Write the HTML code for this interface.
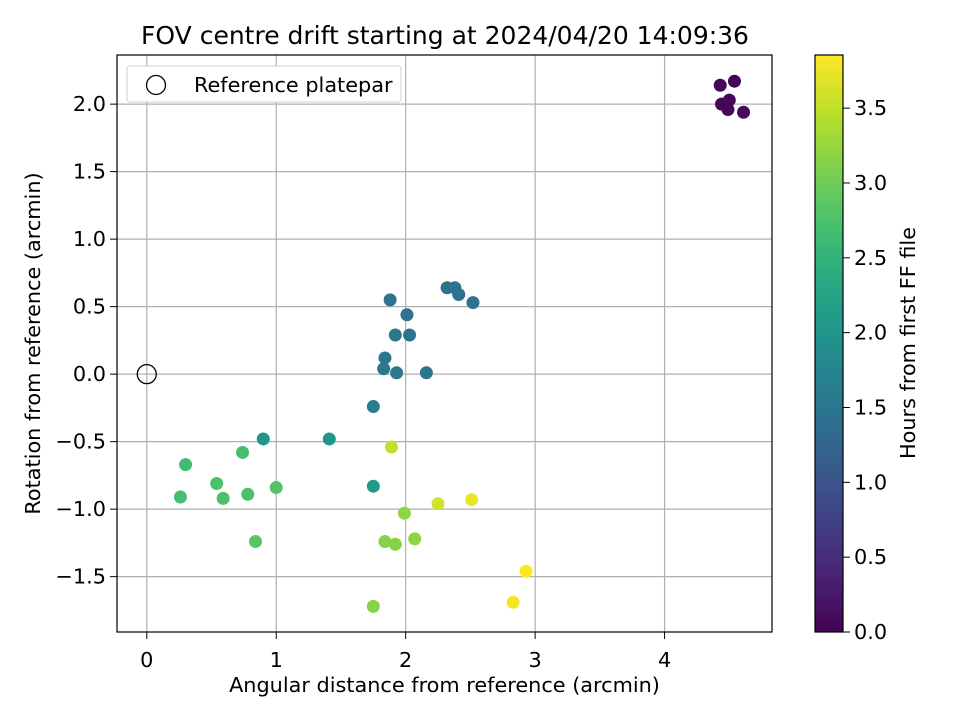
<!DOCTYPE html>
<html><head><meta charset="utf-8"><style>
body{margin:0;background:#fff;}
svg text{font-family:"DejaVu Sans","Liberation Sans",sans-serif;fill:#000;}
</style></head><body>
<svg id="chart" width="960" height="720" xmlns="http://www.w3.org/2000/svg">
<rect width="960" height="720" fill="#fff"/>
<text x="445" y="44" font-size="25" text-anchor="middle">FOV centre drift starting at 2024/04/20 14:09:36</text>
<g id="grid"></g><g id="pts"></g><g id="axes"></g>
<defs><linearGradient id="vir" x1="0" y1="1" x2="0" y2="0"></linearGradient></defs>
</svg>
<script>
const xVals=[4.43,4.54,4.44,4.50,4.49,4.61, 1.88,2.32,2.38,2.41,2.52,2.01,1.92,2.03,1.84,1.83,1.93,2.16,1.75, 0.90,1.41,1.75, 0.30,0.74,0.26,0.54,0.59,0.78,1.00,0.84, 1.89,1.99,1.84,1.92,2.07,1.75, 2.25,2.51,2.93,2.83];
const yVals=[2.14,2.17,2.00,2.03,1.96,1.94, 0.55,0.64,0.64,0.59,0.53,0.44,0.29,0.29,0.12,0.04,0.01,0.01,-0.24, -0.48,-0.48,-0.83, -0.67,-0.58,-0.91,-0.81,-0.92,-0.89,-0.84,-1.24, -0.54,-1.03,-1.24,-1.26,-1.22,-1.72, -0.96,-0.93,-1.46,-1.69];
const hours=[0.05,0.02,0.06,0.08,0.07,0.1, 1.45,1.45,1.45,1.45,1.45,1.5,1.5,1.5,1.55,1.55,1.55,1.5,1.65, 2.0,2.0,2.1, 2.65,2.7,2.7,2.75,2.75,2.75,2.8,2.85, 3.5,3.2,3.15,3.15,3.2,3.15, 3.6,3.75,3.85,3.8];
const xTicks=[0,1,2,3,4];
const yTicks=[-1.5,-1.0,-0.5,0.0,0.5,1.0,1.5,2.0];
const cTicks=[0.0,0.5,1.0,1.5,2.0,2.5,3.0,3.5];
const L=117,R=772,T=55,B=632,xmin=-0.23,xmax=4.83,ymin=-1.91,ymax=2.364,cmax=3.855;
const sx=v=>L+(v-xmin)/(xmax-xmin)*(R-L);
const sy=v=>B-(v-ymin)/(ymax-ymin)*(B-T);
const sc=v=>632-v/cmax*577;
const stops=[[68,1,84],[72,40,120],[62,74,137],[49,104,142],[38,130,142],[31,158,137],[53,183,121],[109,205,89],[180,222,44],[253,231,37]];
function vir(t){t=Math.max(0,Math.min(1,t))*(stops.length-1);const i=Math.min(Math.floor(t),stops.length-2),f=t-i;const c=stops[i].map((a,k)=>Math.round(a+(stops[i+1][k]-a)*f));return `rgb(${c})`;}
const NS="http://www.w3.org/2000/svg";
function mk(p,tag,at,txt){const e=document.createElementNS(NS,tag);for(const k in at)e.setAttribute(k,at[k]);if(txt!==undefined)e.textContent=txt;p.appendChild(e);return e;}
const grid=document.getElementById('grid'),pts=document.getElementById('pts'),axes=document.getElementById('axes');
const FS=20.8;
xTicks.forEach(v=>{const x=sx(v);
const g=mk(grid,'line',{x1:x,x2:x,y1:T,y2:B,stroke:'#b0b0b0','stroke-width':1.2});


mk(axes,'line',{x1:x,x2:x,y1:B,y2:B+7,stroke:'#000'});
const t=mk(axes,'text',{x:x,y:B+35,'font-size':FS,'text-anchor':'middle'},String(v));

});
yTicks.forEach(v=>{const y=sy(v);
const g=mk(grid,'line',{x1:L,x2:R,y1:y,y2:y,stroke:'#b0b0b0','stroke-width':1.2});


mk(axes,'line',{x1:L-7,x2:L,y1:y,y2:y,stroke:'#000'});
const t=mk(axes,'text',{x:L-11,y:y+7,'font-size':FS,'text-anchor':'end'},(v<0?'\u2212':'')+Math.abs(v).toFixed(1));

});
const ref=mk(pts,'circle',{cx:sx(0),cy:sy(0),r:9.5,fill:'none',stroke:'#000','stroke-width':1.3});


xVals.forEach((v,i)=>{const c=mk(pts,'circle',{cx:sx(v),cy:sy(yVals[i]),r:6.5,fill:vir(hours[i]/cmax)});

});
const fr=mk(axes,'rect',{x:L,y:T,width:R-L,height:B-T,fill:'none',stroke:'#000','stroke-width':1.2});


const xl=mk(axes,'text',{x:(L+R)/2,y:692,'font-size':FS,'text-anchor':'middle'},'Angular distance from reference (arcmin)');


const yl=mk(axes,'text',{x:0,y:0,'font-size':FS,'text-anchor':'middle',transform:`translate(40,${(T+B)/2}) rotate(-90)`},'Rotation from reference (arcmin)');


const lg=mk(axes,'g',{});


mk(lg,'rect',{x:127,y:66,width:274,height:36,rx:3,fill:'#fff',stroke:'#d0d0d0'});
mk(lg,'circle',{cx:156,cy:85,r:9.5,fill:'none',stroke:'#000','stroke-width':1.3});
const lt=mk(lg,'text',{x:194,y:92,'font-size':FS},'Reference platepar');


const gr=document.getElementById('vir');
for(let i=0;i<=20;i++){mk(gr,'stop',{offset:i/20,'stop-color':vir(i/20)});}
const cb=mk(axes,'rect',{x:815,y:55,width:28,height:577,fill:'url(#vir)',stroke:'#000','stroke-width':1.2});


cTicks.forEach(v=>{const y=sc(v);
mk(axes,'line',{x1:843,x2:850,y1:y,y2:y,stroke:'#000'});
const t=mk(axes,'text',{x:854,y:y+7,'font-size':FS},v.toFixed(1));

});
const cl=mk(axes,'text',{x:0,y:0,'font-size':FS,'text-anchor':'middle',transform:`translate(915,343) rotate(-90)`},'Hours from first FF file');


</script>
</body></html>
